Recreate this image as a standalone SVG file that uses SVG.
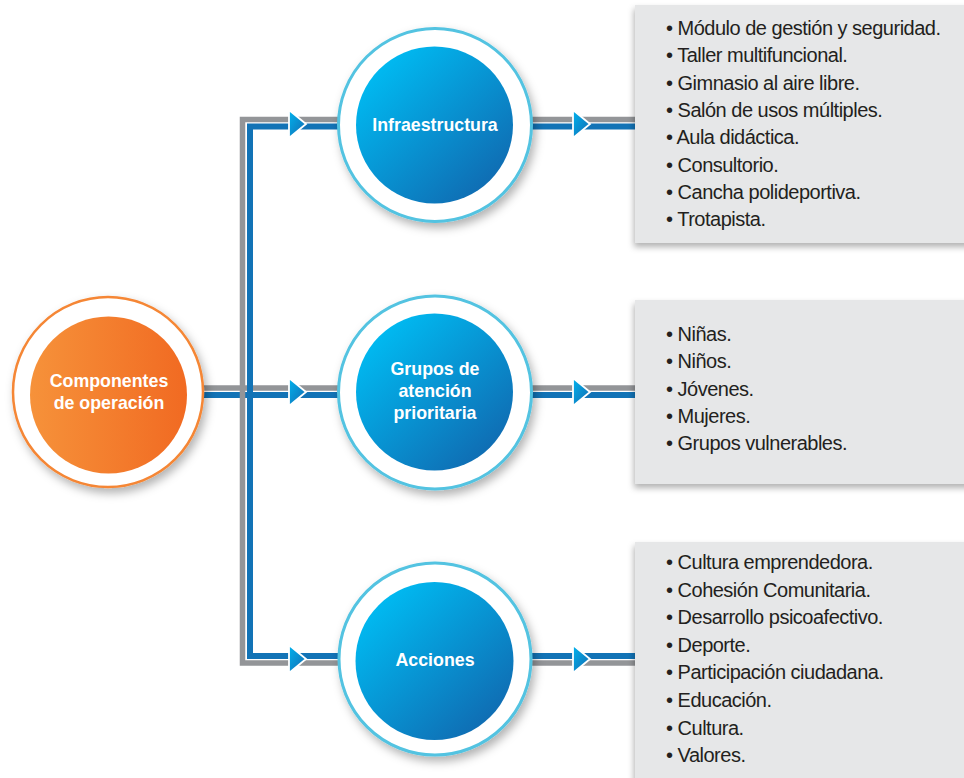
<svg xmlns="http://www.w3.org/2000/svg" width="964" height="778" viewBox="0 0 964 778">
<style>
.gray{fill:none;stroke:#939598;stroke-width:5.5}
.blue{fill:none;stroke:#1273b6;stroke-width:6}
.arrow{fill:url(#gArrow);stroke:#ffffff;stroke-width:1.8;stroke-linejoin:miter}
.ring{fill:#ffffff;stroke:#52c3e1;stroke-width:3}
.ringO{fill:#ffffff;stroke:#f58634;stroke-width:2.5}
.lbl{font-family:"Liberation Sans",Arial,sans-serif;font-weight:bold;font-size:17.8px;fill:#ffffff;text-anchor:middle}
.box{fill:#e6e7e8}
.item{font-family:"Liberation Sans",Arial,sans-serif;font-size:20px;fill:#231f20;letter-spacing:-0.5px}
</style>
<defs>
<linearGradient id="gBlue" x1="0.15" y1="0.1" x2="0.9" y2="0.9">
<stop offset="0" stop-color="#00bbf2"/>
<stop offset="1" stop-color="#1069b0"/>
</linearGradient>
<linearGradient id="gOrange" x1="0" y1="0" x2="1" y2="0">
<stop offset="0" stop-color="#f6923a"/>
<stop offset="1" stop-color="#f16a22"/>
</linearGradient>
<linearGradient id="gArrow" x1="0" y1="0" x2="1" y2="1">
<stop offset="0" stop-color="#00b3ee"/>
<stop offset="1" stop-color="#1569b0"/>
</linearGradient>
<filter id="sh" x="-20%" y="-20%" width="150%" height="150%">
<feDropShadow dx="3" dy="5" stdDeviation="5" flood-color="#000000" flood-opacity="0.3"/>
</filter>
<filter id="shBox" x="-10%" y="-10%" width="130%" height="130%">
<feDropShadow dx="-1" dy="4" stdDeviation="3" flood-color="#000000" flood-opacity="0.3"/>
</filter>
</defs>

<g id="connectors">
<path class="gray" d="M200 388 H340"/>
<path class="blue" d="M200 395 H340"/>
<path class="gray" d="M340 119.5 H242.5 V663 H340"/>
<path class="blue" d="M340 126.5 H250 V656 H340"/>
<path class="gray" d="M528 119.5 H636"/>
<path class="blue" d="M528 126.5 H636"/>
<path class="gray" d="M528 388 H636"/>
<path class="blue" d="M528 395 H636"/>
<path class="blue" d="M528 656 H636"/>
<path class="gray" d="M528 663 H636"/>
<polygon class="arrow" points="289,110 306,124 289,138"/>
<polygon class="arrow" points="289,378 306,392 289,406"/>
<polygon class="arrow" points="289,645 306,659 289,673"/>
<polygon class="arrow" points="573,110 590,124 573,138"/>
<polygon class="arrow" points="573,378 590,392 573,406"/>
<polygon class="arrow" points="573,645 590,659 573,673"/>
</g>

<g id="node-componentes">
<circle class="ringO" cx="108" cy="392" r="95" filter="url(#sh)"/>
<circle cx="108.5" cy="395" r="78.5" fill="url(#gOrange)"/>
<text class="lbl" x="109" y="387">Componentes</text>
<text class="lbl" x="109" y="409">de operación</text>
</g>

<g id="node-infraestructura">
<circle class="ring" cx="435" cy="125" r="96.5" filter="url(#sh)"/>
<circle cx="434.5" cy="125" r="78.5" fill="url(#gBlue)"/>
<text class="lbl" x="435" y="131">Infraestructura</text>
</g>

<g id="node-grupos">
<circle class="ring" cx="435" cy="392.5" r="96.5" filter="url(#sh)"/>
<circle cx="434.5" cy="392" r="78.5" fill="url(#gBlue)"/>
<text class="lbl" x="435" y="375">Grupos de</text>
<text class="lbl" x="435" y="397">atención</text>
<text class="lbl" x="435" y="419">prioritaria</text>
</g>

<g id="node-acciones">
<circle class="ring" cx="435" cy="659" r="96" filter="url(#sh)"/>
<circle cx="434.5" cy="661" r="79" fill="url(#gBlue)"/>
<text class="lbl" x="435" y="666">Acciones</text>
</g>

<g id="box-infraestructura">
<rect class="box" x="635" y="5" width="340" height="238" filter="url(#shBox)"/>
<text class="item" x="666" y="35">• Módulo de gestión y seguridad.</text>
<text class="item" x="666" y="62.3">• Taller multifuncional.</text>
<text class="item" x="666" y="89.6">• Gimnasio al aire libre.</text>
<text class="item" x="666" y="116.9">• Salón de usos múltiples.</text>
<text class="item" x="666" y="144.2">• Aula didáctica.</text>
<text class="item" x="666" y="171.5">• Consultorio.</text>
<text class="item" x="666" y="198.8">• Cancha polideportiva.</text>
<text class="item" x="666" y="226">• Trotapista.</text>
</g>

<g id="box-grupos">
<rect class="box" x="635" y="300" width="340" height="184" filter="url(#shBox)"/>
<text class="item" x="666" y="341">• Niñas.</text>
<text class="item" x="666" y="368.3">• Niños.</text>
<text class="item" x="666" y="395.6">• Jóvenes.</text>
<text class="item" x="666" y="422.9">• Mujeres.</text>
<text class="item" x="666" y="450">• Grupos vulnerables.</text>
</g>

<g id="box-acciones">
<rect class="box" x="635" y="542" width="340" height="250" filter="url(#shBox)"/>
<text class="item" x="666" y="569">• Cultura emprendedora.</text>
<text class="item" x="666" y="596.6">• Cohesión Comunitaria.</text>
<text class="item" x="666" y="624.2">• Desarrollo psicoafectivo.</text>
<text class="item" x="666" y="651.8">• Deporte.</text>
<text class="item" x="666" y="679.4">• Participación ciudadana.</text>
<text class="item" x="666" y="707">• Educación.</text>
<text class="item" x="666" y="734.6">• Cultura.</text>
<text class="item" x="666" y="762">• Valores.</text>
</g>
</svg>
